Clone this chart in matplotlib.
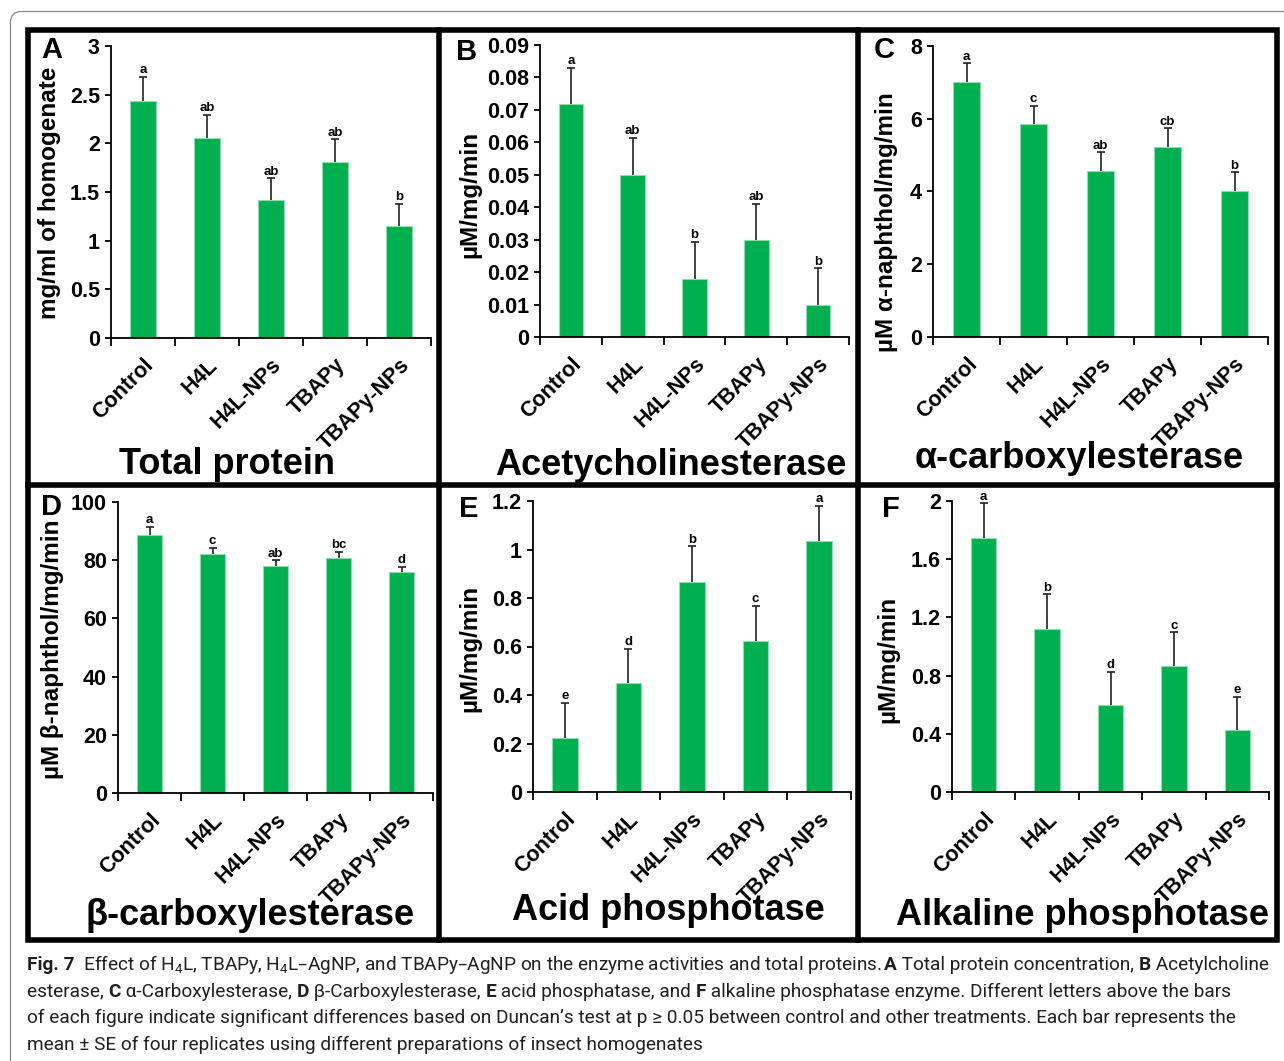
import matplotlib
matplotlib.use("Agg")
import matplotlib.pyplot as plt
import numpy as np
from matplotlib.lines import Line2D
from matplotlib.patches import Rectangle, FancyBboxPatch

# ----------------------------
# Data
# ----------------------------
categories = ["Control", "H4L", "H4L-NPs", "TBAPy", "TBAPy-NPs"]

protein_mean = [2.44, 2.05, 1.42, 1.81, 1.15]
protein_se = [0.24, 0.24, 0.22, 0.23, 0.23]
protein_letters = ["a", "ab", "ab", "ab", "b"]

ache_mean = [0.0717, 0.0499, 0.0180, 0.0298, 0.0100]
ache_se = [0.0113, 0.0114, 0.0113, 0.0113, 0.0112]
ache_letters = ["a", "ab", "b", "ab", "b"]

alpha_mean = [7.02, 5.85, 4.57, 5.23, 4.01]
alpha_se = [0.50, 0.50, 0.51, 0.51, 0.52]
alpha_letters = ["a", "c", "ab", "cb", "b"]

beta_mean = [88.8, 82.3, 77.9, 80.7, 75.8]
beta_se = [2.6, 2.0, 2.1, 2.2, 2.0]
beta_letters = ["a", "c", "ab", "bc", "d"]

acp_mean = [0.222, 0.450, 0.868, 0.621, 1.035]
acp_se = [0.147, 0.140, 0.145, 0.148, 0.144]
acp_letters = ["e", "d", "b", "c", "a"]

alp_mean = [1.748, 1.119, 0.595, 0.865, 0.423]
alp_se = [0.236, 0.240, 0.229, 0.233, 0.231]
alp_letters = ["a", "b", "d", "c", "e"]

protein_ticks = [0, 0.5, 1, 1.5, 2, 2.5, 3]
ache_ticks = [0, 0.01, 0.02, 0.03, 0.04, 0.05, 0.06, 0.07, 0.08, 0.09]
alpha_ticks = [0, 2, 4, 6, 8]
beta_ticks = [0, 20, 40, 60, 80, 100]
acp_ticks = [0, 0.2, 0.4, 0.6, 0.8, 1, 1.2]
alp_ticks = [0, 0.4, 0.8, 1.2, 1.6, 2]

# ----------------------------
# Figure setup (pixel helpers)
# ----------------------------
W, H = 1284, 1061
plt.rcParams["font.family"] = ["Liberation Sans", "DejaVu Sans"]
plt.rcParams["font.weight"] = "bold"
plt.rcParams["mathtext.default"] = "regular"

fig = plt.figure(figsize=(W / 100, H / 100), dpi=100)


def fx(x):
    return x / W


def fy(y):
    return 1 - y / H


GREEN = "#00b050"

panels = [
    # letter, box (left, top, right, bottom) px, mean, se, letters, ticks, ylabel, ylabel pos, title, title pos, letter pos
    ("A", (111, 46, 431, 338), protein_mean, protein_se, protein_letters, protein_ticks,
     "mg/ml of homogenate", (50, 193), "Total protein", (227, 474), (41, 36)),
    ("B", (540, 45, 849, 337), ache_mean, ache_se, ache_letters, ache_ticks,
     "µM/mg/min", (470, 194), "Acetycholinesterase", (671, 475), (456, 38)),
    ("C", (933, 46, 1268, 337), alpha_mean, alpha_se, alpha_letters, alpha_ticks,
     "µM α-naphthol/mg/min", (887, 222), "α-carboxylesterase", (1079, 468), (874, 36)),
    ("D", (118, 502, 433, 793), beta_mean, beta_se, beta_letters, beta_ticks,
     "µM β-naphthol/mg/min", (53, 649), "β-carboxylesterase", (250, 925), (41, 493)),
    ("E", (533, 501, 851, 792), acp_mean, acp_se, acp_letters, acp_ticks,
     "µM/mg/min", (470, 648), "Acid phosphotase", (668, 920), (459, 495)),
    ("F", (952, 501, 1269, 792), alp_mean, alp_se, alp_letters, alp_ticks,
     "µM/mg/min", (888, 659), "Alkaline phosphotase", (1083, 925), (882, 495)),
]

x = np.arange(len(categories))

for (letter, box, mean, se, sig, ticks, ylabel, ylpos, title, tpos, lpos) in panels:
    left, top, right, bottom = box
    ax = fig.add_axes([fx(left), fy(bottom), (right - left) / W, (bottom - top) / H])

    ax.bar(x, mean, width=0.4, color=GREEN, edgecolor="#8fdcb0", linewidth=0.8, zorder=2)
    eb = ax.errorbar(x, mean, yerr=[np.zeros(len(mean)), se], fmt="none",
                     ecolor="#222222", elinewidth=1.2, capsize=3, capthick=1.2, zorder=3)
    # keep only the upper cap
    for cl in eb[1]:
        if np.allclose(cl.get_ydata(), mean):
            cl.set_visible(False)

    for i in range(len(mean)):
        ax.annotate(sig[i], (x[i], mean[i] + se[i]), xytext=(0, 0.5), textcoords="offset points",
                    ha="center", va="bottom", fontsize=9.5, fontweight="bold")

    ax.set_xlim(-0.5, len(categories) - 0.5)
    ax.set_ylim(0, ticks[-1])
    ax.set_yticks(ticks)
    ax.set_yticklabels([f"{t:g}" for t in ticks])
    ax.set_xticks(x)
    ax.set_xticklabels(categories, rotation=45, ha="right", rotation_mode="anchor")
    ax.set_xticks(np.arange(-0.5, len(categories)), minor=True)

    ax.tick_params(axis="y", direction="out", length=4, width=1.3, pad=4, labelsize=15.5)
    ax.tick_params(axis="x", which="major", length=0, pad=12, labelsize=15.5)
    ax.tick_params(axis="x", which="minor", direction="out", length=6, width=1.3)
    for s in ["top", "right"]:
        ax.spines[s].set_visible(False)
    for s in ["left", "bottom"]:
        ax.spines[s].set_linewidth(1.3)
    ax.patch.set_alpha(0)

    fig.text(fx(ylpos[0]), fy(ylpos[1]), ylabel, rotation=90, ha="center", va="center",
             fontsize=17.5, fontweight="bold")
    fig.text(fx(tpos[0]), fy(tpos[1]), title, ha="center", va="baseline",
             fontsize=26, fontweight="bold")
    fig.text(fx(lpos[0]), fy(lpos[1]), letter, ha="left", va="top",
             fontsize=21, fontweight="bold")

# ----------------------------
# Panel frame and outer box
# ----------------------------
frame_lw = 4
fig.add_artist(Rectangle((fx(28), fy(940)), fx(1277) - fx(28), fy(30) - fy(940),
                         transform=fig.transFigure, fill=False, lw=frame_lw,
                         edgecolor="black", joinstyle="miter"))
for xv in [439, 857.5]:
    fig.add_artist(Line2D([fx(xv), fx(xv)], [fy(30), fy(940)], transform=fig.transFigure,
                          color="black", lw=frame_lw))
fig.add_artist(Line2D([fx(28), fx(1277)], [fy(485), fy(485)], transform=fig.transFigure,
                      color="black", lw=frame_lw))

outer = FancyBboxPatch((0.105, (H - 1120) / 100), 14.0, (1120 - 11.5) / 100,
                       boxstyle="round,pad=0,rounding_size=0.11",
                       transform=fig.dpi_scale_trans, fill=False,
                       edgecolor="#8a8a8a", lw=0.9)
fig.add_artist(outer)

# ----------------------------
# Caption
# ----------------------------
cap_font = ["Roboto", "DejaVu Sans"]
caption_lines = [
    [("Fig. 7", True),
     ("  Effect of H$_4$L, TBAPy, H$_4$L–AgNP, and TBAPy–AgNP on the enzyme activities and total proteins. ", False),
     ("A", True), (" Total protein concentration, ", False), ("B", True), (" Acetylcholine", False)],
    [("esterase, ", False), ("C", True), (" α-Carboxylesterase, ", False), ("D", True),
     (" β-Carboxylesterase, ", False), ("E", True), (" acid phosphatase, and ", False), ("F", True),
     (" alkaline phosphatase enzyme. Different letters above the bars", False)],
    [("of each figure indicate significant differences based on Duncan’s test at p ≥ 0.05 "
      "between control and other treatments. Each bar represents the", False)],
    [("mean ± SE of four replicates using different preparations of insect homogenates", False)],
]
caption_y = [970, 997, 1023, 1050]
cap_left, cap_right = 27, 1266

renderer = fig.canvas.get_renderer()


def draw_line(runs, yb, size):
    xpos = cap_left
    texts = []
    for txt, bold in runs:
        t = fig.text(fx(xpos), fy(yb), txt, ha="left", va="baseline", family=cap_font,
                     fontsize=size, fontweight="bold" if bold else "normal", color="#231f20")
        xpos += t.get_window_extent(renderer).width
        texts.append(t)
    return texts, xpos


# fit the first (longest) caption line to the caption width
size = 12
for _ in range(2):
    probe, end = draw_line(caption_lines[0], caption_y[0], size)
    for t in probe:
        t.remove()
    size = size * (cap_right - cap_left) / (end - cap_left)

for runs, yb in zip(caption_lines, caption_y):
    draw_line(runs, yb, size)

fig.savefig("out.png", dpi=100)
